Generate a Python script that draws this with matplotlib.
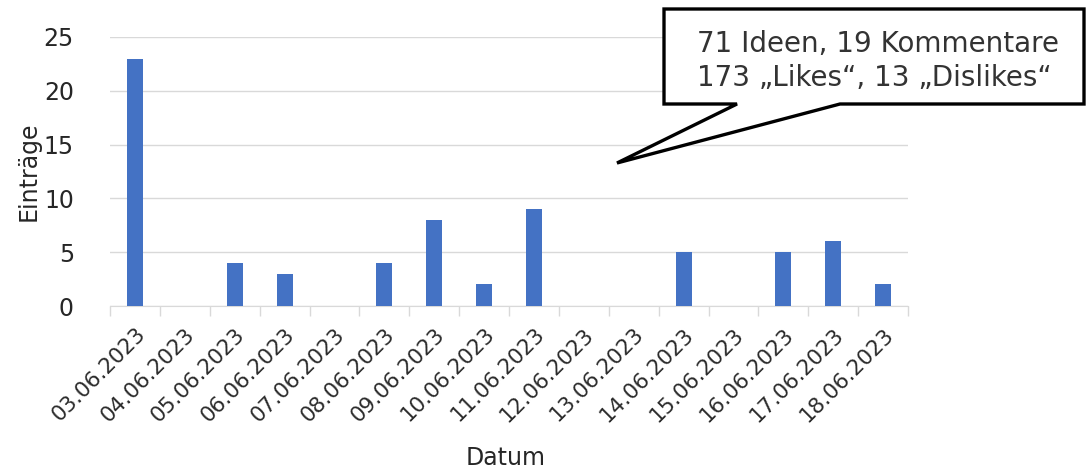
import matplotlib
matplotlib.use("Agg")
import matplotlib.pyplot as plt
from matplotlib.patches import Polygon

plt.rcParams['font.family'] = ['DejaVu Sans']

dates = ['03.06.2023', '04.06.2023', '05.06.2023', '06.06.2023', '07.06.2023',
         '08.06.2023', '09.06.2023', '10.06.2023', '11.06.2023', '12.06.2023',
         '13.06.2023', '14.06.2023', '15.06.2023', '16.06.2023', '17.06.2023',
         '18.06.2023']
entries = [23, 0, 4, 3, 0, 4, 8, 2, 9, 0, 0, 5, 0, 5, 6, 2]
callout_lines = ['71 Ideen, 19 Kommentare', '173 \u201eLikes\u201c, 13 \u201eDislikes\u201c']

W, H = 1089, 470
fig = plt.figure(figsize=(W / 100, H / 100), dpi=100)
ax = fig.add_axes([110 / W, 1 - 306 / H, 798 / W, 269 / H])

x = range(len(dates))
ax.bar(x, entries, width=0.32, color='#4472C4', zorder=3)

ax.set_xlim(-0.5, len(dates) - 0.5)
ax.set_ylim(0, 25)
ax.set_yticks(range(0, 26, 5))
ax.yaxis.grid(True, color='#d9d9d9', linewidth=1)
ax.set_axisbelow(True)

for s in ['top', 'right', 'left']:
    ax.spines[s].set_visible(False)
ax.spines['bottom'].set_color('#d9d9d9')

# ticks sit between the categories, labels under each bar
ax.set_xticks([i - 0.5 for i in range(len(dates) + 1)])
ax.set_xticklabels([])
ax.tick_params(axis='x', which='major', length=7, color='#d9d9d9', width=1)
ax.set_xticks(list(x), minor=True)
ax.set_xticklabels(dates, minor=True, rotation=45, ha='right', rotation_mode='anchor',
                   fontsize=15.5, color='#2b2b2b')
ax.tick_params(axis='x', which='minor', length=0, pad=13)
ax.tick_params(axis='y', length=0, labelsize=17, colors='#262626', pad=26)

ax.set_ylabel('Einträge', fontsize=17, color='#262626', labelpad=2)
fig.text(506 / W, 1 - 458 / H, 'Datum', fontsize=17, color='#262626',
         ha='center', va='center')


def fp(px, py):
    return (px / W, 1 - py / H)


bubble = [fp(664, 9), fp(1084, 9), fp(1084, 104), fp(840, 104), fp(617, 163),
          fp(737, 104), fp(664, 104)]
fig.patches.append(Polygon(bubble, closed=True, transform=fig.transFigure,
                           facecolor='white', edgecolor='black', linewidth=2.4,
                           joinstyle='miter', zorder=5))
fig.text(697 / W, 1 - 44 / H, callout_lines[0], fontsize=20, color='#333333',
         va='center', ha='left', zorder=6)
fig.text(697 / W, 1 - 78 / H, callout_lines[1], fontsize=20, color='#333333',
         va='center', ha='left', zorder=6)

fig.savefig('out.png', dpi=100)
